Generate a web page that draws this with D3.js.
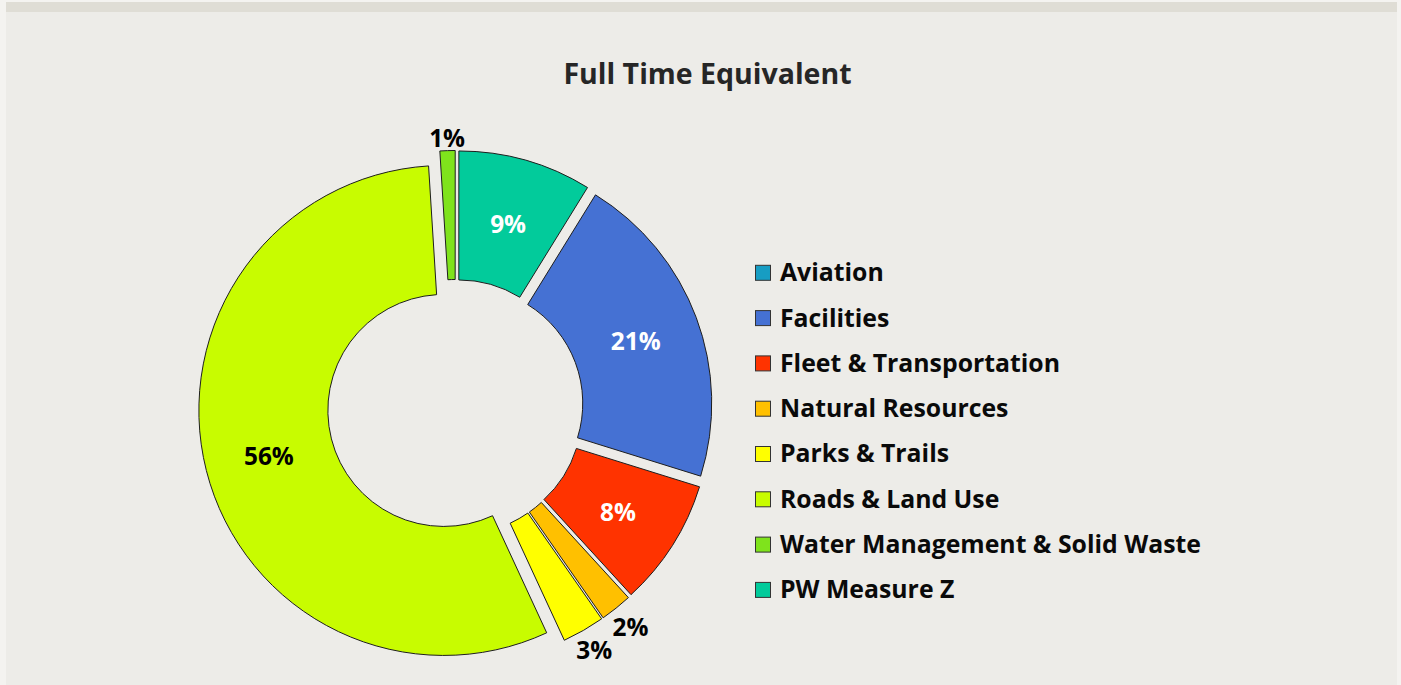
<!DOCTYPE html>
<html><head><meta charset="utf-8">
<script src="https://cdn.jsdelivr.net/npm/d3@7"></script>
<style>
html,body{margin:0;padding:0;background:#f4f3f0;}
svg{display:block;}
text{font-family:"Open Sans","Noto Sans",sans-serif;font-weight:bold;}
</style></head>
<body><svg id="chart" width="1401" height="685"></svg>
<script>
// ---- data ----
const title = "Full Time Equivalent";
const categories = ["Aviation","Facilities","Fleet & Transportation","Natural Resources","Parks & Trails","Roads & Land Use","Water Management & Solid Waste","PW Measure Z"];
const values = [0, 21.0, 8.4, 2.1, 2.8, 55.9, 1.0, 8.8];   // percent of FTE
const colors = ["#179dc3","#4571d3","#ff3300","#ffc000","#ffff00","#c8fc00","#7fe31c","#02cb9b"];
const labelColors = ["#000","#fff","#fff","#000","#000","#000","#000","#fff"];
const firstSliceAngle = 31.7; // degrees

// ---- layout ----
const W = 1401, H = 685;
const cx = 455.5, cy = 407.5;
const outerR = 245, innerR = 116, explode = 12;

const svg = d3.select("#chart");
svg.append("rect").attr("x",6).attr("y",2).attr("width",1391).attr("height",H-2).attr("fill","#edece8");
svg.append("rect").attr("x",6).attr("y",2).attr("width",1391).attr("height",10).attr("fill","#dfddd5");

svg.append("text").attr("x",707.5).attr("y",83.5).attr("text-anchor","middle")
  .style("font-size","28.5px").attr("fill","#262626").text(title);

const data = categories.map((c,i)=>({name:c,value:values[i],color:colors[i],lc:labelColors[i]}));
const a0 = firstSliceAngle*Math.PI/180;
const pie = d3.pie().sort(null).value(d=>d.value).startAngle(a0).endAngle(a0+2*Math.PI);
const arcs = pie(data).filter(d=>d.data.value>0);
const arc = d3.arc().innerRadius(innerR).outerRadius(outerR);

const g = svg.append("g").attr("transform",`translate(${cx},${cy})`);
function mid(d){return (d.startAngle+d.endAngle)/2;}
g.selectAll("path.slice").data(arcs).join("path").attr("class","slice")
  .attr("d",arc)
  .attr("transform",d=>{const m=mid(d);return `translate(${explode*Math.sin(m)},${-explode*Math.cos(m)})`;})
  .attr("fill",d=>d.data.color).attr("stroke","#1e1e1e").attr("stroke-width",1);

const fs = 24.4, capH = fs*0.714;
const fmt = v=>Math.round(v)+"%";
g.selectAll("text.lbl").data(arcs).join("text").attr("class","lbl")
  .style("font-size",fs+"px").attr("text-anchor","middle")
  .attr("fill",d=>d.data.value>=5?d.data.lc:"#000")
  .text(d=>fmt(d.data.value))
  .each(function(d){
    const m=mid(d), sx=Math.sin(m), sy=-Math.cos(m);
    let x,y;
    if(d.data.value>=5){
      const c=arc.centroid(d); x=c[0]+explode*sx; y=c[1]+explode*sy;
    } else {
      const tw = this.getComputedTextLength();
      const dist = outerR+explode+5+Math.abs(sx)*tw/2+Math.abs(sy)*capH/2;
      x=dist*sx; y=dist*sy;
    }
    d3.select(this).attr("x",x).attr("y",y+capH/2+1.5);
  });

// ---- legend ----
const lg = svg.append("g");
const legX = 755, legY0 = 272.8, legStep = 45.3;
categories.forEach((c,i)=>{
  const y = legY0 + i*legStep;
  lg.append("rect").attr("x",legX+0.5).attr("y",y-7.5).attr("width",15).attr("height",15)
    .attr("fill",colors[i]).attr("stroke","#333").attr("stroke-width",1);
  lg.append("text").attr("x",780).attr("y",y+8.4).style("font-size","24.8px").attr("fill","#0a0a0a").text(c);
});
</script></body></html>
